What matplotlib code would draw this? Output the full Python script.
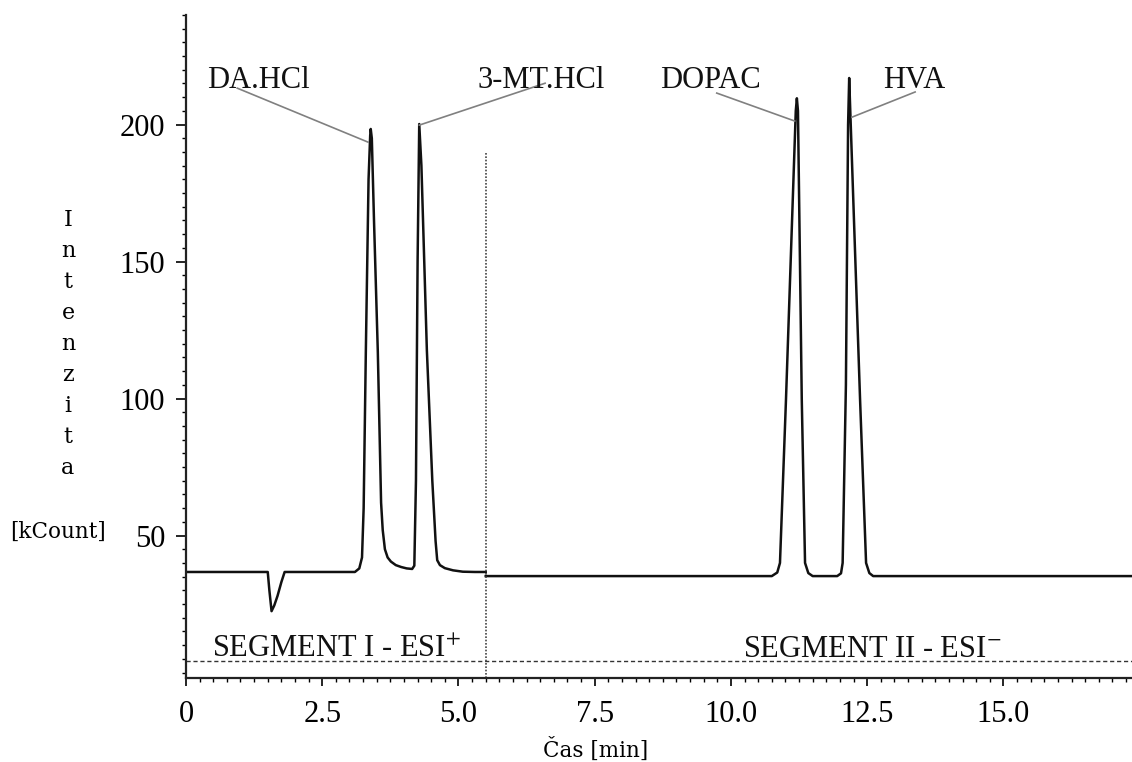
import numpy as np
import matplotlib
matplotlib.use("Agg")
import matplotlib.pyplot as plt
from matplotlib.ticker import MultipleLocator, FixedLocator

# chromatogram trace, segment I (ESI+)
seg1_t = [0, 1.50, 1.53, 1.57, 1.62, 1.68, 1.75, 1.81, 3.10, 3.18, 3.23, 3.26,
          3.30, 3.35, 3.38, 3.39, 3.41, 3.45, 3.52, 3.58, 3.61, 3.65, 3.70,
          3.76, 3.85, 3.95, 4.05, 4.15, 4.19, 4.22, 4.25, 4.28, 4.32, 4.42,
          4.52, 4.58, 4.61, 4.66, 4.75, 4.90, 5.08, 5.30, 5.50]
seg1_v = [36.7, 36.7, 30.0, 22.4, 24.5, 28.0, 33.0, 36.7, 36.7, 38.0, 42.0, 60.0,
          117.0, 180.0, 196.0, 198.4, 195.0, 165.0, 117.0, 62.0, 52.0, 45.0, 42.0,
          40.5, 39.2, 38.5, 38.0, 37.8, 39.0, 70.0, 150.0, 200.2, 185.0, 117.7,
          70.0, 48.0, 41.0, 39.2, 38.1, 37.3, 36.8, 36.7, 36.7]

# segment II (ESI-)
seg2_t = [5.50, 10.75, 10.85, 10.90, 11.01, 11.19, 11.21, 11.23, 11.30, 11.36,
          11.42, 11.50, 11.95, 12.02, 12.05, 12.11, 12.15, 12.17, 12.19, 12.37,
          12.48, 12.54, 12.61, 17.40]
seg2_v = [35.2, 35.2, 36.5, 40.0, 99.5, 205.0, 209.6, 205.0, 99.5, 40.0,
          36.3, 35.2, 35.2, 36.2, 40.0, 105.0, 200.0, 217.0, 205.0, 99.5,
          40.0, 36.3, 35.2, 35.2]

split_t = 5.5
split_top = 190
dash_level = 4.2

peak_names = ["DA.HCl", "3-MT.HCl", "DOPAC", "HVA"]
label_t = [1.32, 6.51, 9.63, 13.36]
label_v = [213.3, 213.3, 213.3, 213.3]
lead_start_t = [0.94, 6.59, 9.74, 13.38]
lead_start_v = [213.3, 215.1, 211.5, 211.9]
lead_end_t = [3.34, 4.28, 11.17, 12.22]
lead_end_v = [193.6, 199.8, 201.3, 202.7]

seg_names = ["SEGMENT I - ESI$^{+}$", "SEGMENT II - ESI$^{-}$"]
seg_label_t = [2.77, 12.59]
seg_label_v = [5.6, 5.6]

plt.rcParams['font.family'] = ['Liberation Serif', 'DejaVu Serif']
plt.rcParams['mathtext.fontset'] = 'stix'

fig = plt.figure(figsize=(11.32, 7.62), dpi=100)
ax = fig.add_axes([186/1132, 1-678/762, 1-186/1132, (678-15)/762])

ax.plot(seg1_t, seg1_v, color='#111111', lw=1.8, solid_joinstyle='round')
ax.plot(seg2_t, seg2_v, color='#111111', lw=1.8, solid_joinstyle='round')
ax.plot([split_t, split_t], [-2, split_top], color='#444444', lw=1.2, ls=(0, (1, 1)))
ax.axhline(dash_level, color='#333333', lw=1.0, ls=(0, (3, 2)))

for i in range(len(peak_names)):
    ax.plot([lead_start_t[i], lead_end_t[i]], [lead_start_v[i], lead_end_v[i]],
            color='#808080', lw=1.2)
    ax.text(label_t[i], label_v[i], peak_names[i], ha='center', va='baseline',
            fontsize=22, color='#111111')

for i in range(len(seg_names)):
    ax.text(seg_label_t[i], seg_label_v[i], seg_names[i], ha='center', va='baseline',
            fontsize=22, color='#111111')

ax.set_xlim(0, 17.36)
ax.set_ylim(-2, 240)
ax.spines['top'].set_visible(False)
ax.spines['right'].set_visible(False)
for s in ['left', 'bottom']:
    ax.spines[s].set_linewidth(1.6)
    ax.spines[s].set_color('#222222')

ax.xaxis.set_major_locator(FixedLocator([0, 2.5, 5.0, 7.5, 10.0, 12.5, 15.0]))
ax.set_xticklabels(['0', '2.5', '5.0', '7.5', '10.0', '12.5', '15.0'])
ax.xaxis.set_minor_locator(MultipleLocator(0.25))
ax.yaxis.set_major_locator(FixedLocator([50, 100, 150, 200]))
ax.yaxis.set_minor_locator(MultipleLocator(5))
ax.tick_params(axis='x', which='major', length=6, width=1.2, pad=10, labelsize=22)
ax.tick_params(axis='y', which='major', length=7, width=1.2, pad=8, labelsize=22)
ax.tick_params(which='minor', length=3, width=1.0)

fig.text(596/1132, 1-750/762, "Čas [min]", ha='center', va='center',
         fontsize=15.5, family='DejaVu Serif')
fig.text(58/1132, 1-532/762, "[kCount]", ha='center', va='center',
         fontsize=15.5, family='DejaVu Serif')
fig.text(68/1132, 1-344/762, "\n".join("Intenzita"), ha='center', va='center',
         fontsize=16, family='DejaVu Serif', linespacing=1.53)

fig.savefig("out.png", dpi=100)
